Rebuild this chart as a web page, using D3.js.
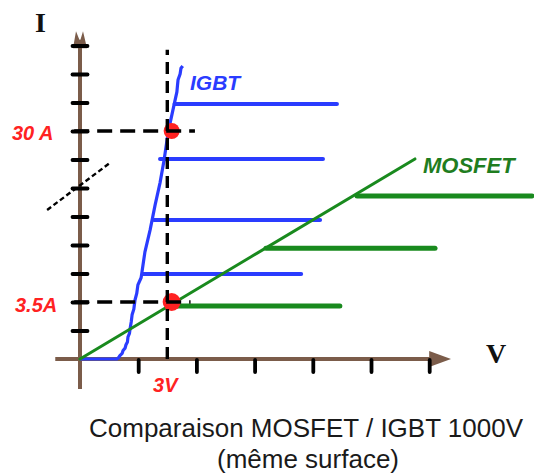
<!DOCTYPE html>
<html><head><meta charset="utf-8">
<script src="https://cdn.jsdelivr.net/npm/d3@7"></script>
<style>body{margin:0;background:#fff}svg{display:block}</style>
</head><body>
<svg id="c" width="534" height="473"></svg>
<script>
// ---- data (x in volts, y in axis divisions) ----
const xTicks = [2, 4, 6, 8, 10, 12];
const yTicks = [1, 2, 3, 4, 5, 6, 7, 8, 9, 10, 11];
const markV = 3;            // "3V"
const markLevels = [8, 2];  // 30 A, 3.5A
const markLabels = ["30 A", "3.5A"];
const igbtCurve = [
  [0,0],[1.27,0],[1.33,0.05],[1.37,0.12],[1.45,0.2],[1.48,0.3],[1.55,0.38],[1.58,0.5],
  [1.63,0.6],[1.65,0.78],[1.70,0.9],[1.72,1.05],[1.76,1.3],[1.79,1.55],[1.85,1.75],
  [1.89,2.07],[1.95,2.3],[1.99,2.6],[2.1,2.85],[2.13,3.05],[2.18,3.4],[2.23,3.75],
  [2.41,4.53],[2.58,5.4],[2.75,6.18],[2.89,6.98],[2.99,7.68],[3.09,8.25],[3.23,8.91],
  [3.33,9.37],[3.35,9.6],[3.37,9.8],[3.44,10.0],[3.47,10.2],[3.53,10.28]
];
const igbtPlateaus = [
  {y: 8.95, x0: 3.25, x1: 8.83},
  {y: 7.02, x0: 2.75, x1: 8.35},
  {y: 4.88, x0: 2.54, x1: 8.25},
  {y: 2.98, x0: 2.18, x1: 7.60}
];
const mosfetLine = [[0,0],[11.51,7.02]];
const mosfetPlateaus = [
  {y: 5.72, x0: 9.52, x1: 15.53},
  {y: 3.89, x0: 6.39, x1: 12.2},
  {y: 1.86, x0: 3.16, x1: 8.93}
];
const dotV = 3.15;
const slash = [[-1.13,5.23],[1.03,6.88]];
const title1 = "Comparaison MOSFET / IGBT 1000V";
const title2 = "(même surface)";

// ---- scales ----
const x = d3.scaleLinear().domain([0, 12]).range([80, 429.2]);
const y = d3.scaleLinear().domain([0, 11]).range([359, 45.5]);
const svg = d3.select("#c");
const line = d3.line().x(d => x(d[0])).y(d => y(d[1]));

const brown = "#7b5c4a", blue = "#2a3cff", green = "#198a1e", red = "#ff2222";

// axes lines
svg.append("line").attr("x1", x(-0.85)).attr("x2", x(12.1)).attr("y1", y(0)).attr("y2", y(0))
  .attr("stroke", brown).attr("stroke-width", 4);
svg.append("path").attr("d", `M${x(12.0)},${y(0)-8} L${x(12.75)},${y(0)} L${x(12.0)},${y(0)+8} Z`)
  .attr("fill", brown);
svg.append("line").attr("x1", x(0)).attr("x2", x(0)).attr("y1", y(-1.05)).attr("y2", y(11.2))
  .attr("stroke", brown).attr("stroke-width", 4);
svg.append("path").attr("d", `M${x(0)-7},${y(10.9)} L${x(0)-4},${y(11.5)} L${x(0)},${y(11.15)} L${x(0)+3},${y(11.5)} L${x(0)+7},${y(10.9)} Z`)
  .attr("fill", brown);

// ticks via d3 axes
const gx = svg.append("g").attr("transform", `translate(0,${y(0)+1})`)
  .call(d3.axisBottom(x).tickValues(xTicks).tickSize(12).tickFormat(""));
const gy = svg.append("g").attr("transform", `translate(${x(0)-7.5},0)`)
  .call(d3.axisRight(y).tickValues(yTicks).tickSize(15).tickFormat(""));
[gx, gy].forEach(g => {
  g.select(".domain").remove();
  g.selectAll(".tick line").attr("stroke", "#000").attr("stroke-width", 3.8).attr("stroke-linecap", "round");
});

// slash (axis break)
svg.append("path").attr("d", line(slash)).attr("fill", "none").attr("stroke", "#000")
  .attr("stroke-width", 2.4).attr("stroke-dasharray", "5,3");

// IGBT
svg.append("path").attr("d", line(igbtCurve)).attr("fill", "none").attr("stroke", blue)
  .attr("stroke-width", 3.2).attr("stroke-linejoin", "round");
svg.selectAll(".ip").data(igbtPlateaus).join("line")
  .attr("x1", d => x(d.x0)).attr("x2", d => x(d.x1)).attr("y1", d => y(d.y)).attr("y2", d => y(d.y))
  .attr("stroke", blue).attr("stroke-width", 4).attr("stroke-linecap", "round");

// MOSFET
svg.append("path").attr("d", line(mosfetLine)).attr("fill", "none").attr("stroke", green)
  .attr("stroke-width", 3).attr("stroke-linecap", "round");
svg.selectAll(".mp").data(mosfetPlateaus).join("line")
  .attr("x1", d => x(d.x0)).attr("x2", d => x(d.x1)).attr("y1", d => y(d.y)).attr("y2", d => y(d.y))
  .attr("stroke", green).attr("stroke-width", 5).attr("stroke-linecap", "round");

// red dots
svg.selectAll(".dot").data(markLevels).join("circle")
  .attr("cx", x(dotV)).attr("cy", d => y(d)).attr("r", (d, i) => i === 0 ? 8 : 9)
  .attr("fill", red);

// dashed guides (on top of dots)
svg.append("line").attr("x1", x(markV)).attr("x2", x(markV)).attr("y1", y(0)).attr("y2", y(10.85))
  .attr("stroke", "#000").attr("stroke-width", 3.4).attr("stroke-dasharray", "12,7");
markLevels.forEach((lv, i) => {
  svg.append("line").attr("x1", x(-0.2)).attr("x2", x(i === 0 ? 3.95 : 3.8)).attr("y1", y(lv)).attr("y2", y(lv))
    .attr("stroke", "#000").attr("stroke-width", 3.4).attr("stroke-dasharray", "15,8");
});

// labels
const lab = (t, px, py, opt) => svg.append("text").attr("x", px).attr("y", py).text(t)
  .attr("font-family", opt.ff || "Liberation Sans, Arial, sans-serif")
  .attr("font-size", opt.fs).attr("font-weight", opt.fw || "bold")
  .attr("font-style", opt.st || "normal").attr("fill", opt.c).attr("text-anchor", opt.a || "start");
lab(markLabels[0], 12, y(markLevels[0]) + 9, {fs: 20, st: "italic", c: red});
lab(markLabels[1], 15, y(markLevels[1]) + 10, {fs: 20, st: "italic", c: red});
lab("3V", x(markV) - 2, 392, {fs: 20, st: "italic", c: red, a: "middle"});
lab("IGBT", 190, 90, {fs: 21, st: "italic", c: blue});
lab("MOSFET", 423, 173, {fs: 22, st: "italic", c: "#1f7d1f"});
lab("I", 35, 32, {fs: 28, c: "#111", ff: "Liberation Serif, Times New Roman, serif"});
lab("V", 486, 363, {fs: 28, c: "#111", ff: "Liberation Serif, Times New Roman, serif"});
lab(title1, 306, 437, {fs: 26, fw: "normal", c: "#1a1a1a", a: "middle"});
lab(title2, 308, 468, {fs: 26, fw: "normal", c: "#1a1a1a", a: "middle"});
</script>
</body></html>
